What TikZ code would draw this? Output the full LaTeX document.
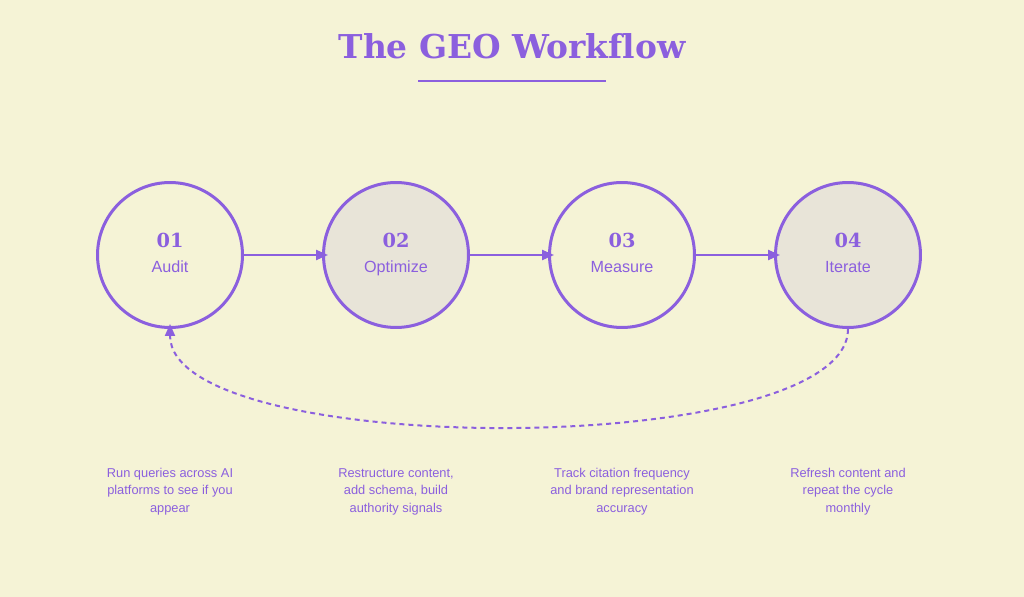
\documentclass[tikz,border=0pt]{standalone}
\usepackage{fontspec}
\setmainfont{Liberation Sans}
\newfontfamily\titlefont[Ligatures=NoCommon,Numbers=Lining]{DejaVu Serif}
\usetikzlibrary{arrows.meta}

\definecolor{geopurple}{RGB}{139,95,222}
\definecolor{geobg}{RGB}{245,243,214}
\definecolor{geofill}{RGB}{232,228,216}

\tikzset{
  stepcircle/.style={circle,draw=geopurple,line width=0.06cm,minimum size=2.9cm,inner sep=0pt},
  flow/.style={geopurple,line width=0.045cm,shorten >=-0.12cm,
    -{Triangle[length=0.24cm,width=0.2cm]}},
  loopback/.style={geopurple,line width=0.04cm,dash pattern=on 0.1cm off 0.08cm,
    shorten >=-0.1cm,-{Triangle[length=0.24cm,width=0.2cm]}},
  stepnum/.style={text=geopurple,anchor=base,inner sep=0pt,
    font=\titlefont\bfseries\fontsize{11}{13}\selectfont},
  steplabel/.style={text=geopurple,anchor=base,inner sep=0pt,
    font=\fontsize{9.2}{11}\selectfont},
  stepnote/.style={text=geopurple,anchor=base,inner sep=0pt,align=center,
    font=\fontsize{7.3}{9.7}\selectfont}
}

\begin{document}
\begin{tikzpicture}[x=0.02cm,y=-0.02cm]
%\draw[step=50,gray,very thin] (0,0) grid (1024,597);
\fill[geobg] (0,0) rectangle (1024,597);
\useasboundingbox (0,0) rectangle (1024,597);

% title
\node[text=geopurple,anchor=base,inner sep=0pt,font=\titlefont\bfseries\fontsize{18.7}{22}\selectfont]
  (title) at (512,59) {The GEO Workflow};
\draw[geopurple,line width=0.04cm] (418,81) -- (606,81);

% circles
\node[stepcircle]              (c1) at (170,255) {};
\node[stepcircle,fill=geofill] (c2) at (396,255) {};
\node[stepcircle]              (c3) at (622,255) {};
\node[stepcircle,fill=geofill] (c4) at (848,255) {};

\node[stepnum] (n1) at (170,248) {01};
\node[stepnum] (n2) at (396,248) {02};
\node[stepnum] (n3) at (622,248) {03};
\node[stepnum] (n4) at (848,248) {04};

\node[steplabel] (l1) at (170,273) {Audit};
\node[steplabel] (l2) at (396,273) {Optimize};
\node[steplabel] (l3) at (622,273) {Measure};
\node[steplabel] (l4) at (848,273) {Iterate};

% arrows
\draw[flow] (c1) -- (c2);
\draw[flow] (c2) -- (c3);
\draw[flow] (c3) -- (c4);
\draw[loopback] (c4.south) .. controls +(0,131) and +(0,131) .. (c1.south);

% notes (base = last line)
\node[stepnote] (d1) at (170,512) {Run queries across AI\\platforms to see if you\\appear};
\node[stepnote] (d2) at (396,512) {Restructure content,\\add schema, build\\authority signals};
\node[stepnote] (d3) at (622,512) {Track citation frequency\\and brand representation\\accuracy};
\node[stepnote] (d4) at (848,512) {Refresh content and\\repeat the cycle\\monthly};

\end{tikzpicture}
\end{document}
